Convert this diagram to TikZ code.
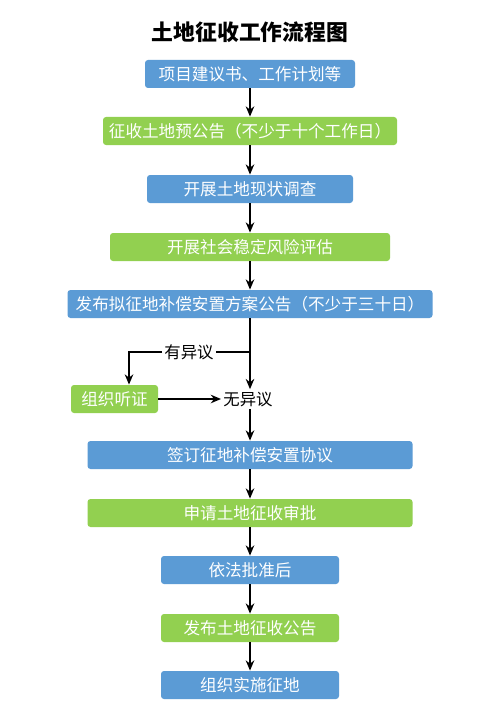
\documentclass[tikz,border=0pt]{standalone}
\usepackage{fontspec}
\setmainfont{Noto Sans CJK SC}
\usepackage{xcolor}
\usetikzlibrary{positioning, arrows.meta, calc}
\definecolor{stepblue}{HTML}{5B9BD5}
\definecolor{stepgreen}{HTML}{92D050}

\begin{document}
\begin{tikzpicture}[
    x=0.5pt, y=-0.5pt,
    >={Stealth[length=1.8mm, width=1.5mm]},
    box/.style={rectangle, rounded corners=1.5pt, text=white, inner sep=0pt,
                minimum height=14pt, font=\fontsize{8.3}{10}\selectfont},
    bbox/.style={box, fill=stepblue},
    gbox/.style={box, fill=stepgreen},
    arrow/.style={->, line width=0.8pt, black},
    line/.style={line width=0.8pt, black},
    plabel/.style={font=\fontsize{8.2}{10}\selectfont, text=black, inner sep=1pt},
]
\useasboundingbox[fill=white] (0,0) rectangle (500,722);

% === title ===
\node[font=\fontsize{10.9}{12}\selectfont\bfseries] (title) at (250,32) {土地征收工作流程图};

% === main steps ===
\node[bbox, minimum width=105pt] (s1) at (250,74) {项目建议书、工作计划等};
\node[gbox, minimum width=147pt] (s2) at (250,131) {征收土地预公告（不少于十个工作日）};
\node[bbox, minimum width=103pt] (s3) at (250,189) {开展土地现状调查};
\node[gbox, minimum width=140pt] (s4) at (250,247) {开展社会稳定风险评估};
\node[bbox, minimum width=182.5pt] (s5) at (250,304) {发布拟征地补偿安置方案公告（不少于三十日）};

% === objection branch ===
\coordinate (fork) at (250,352);
\node[plabel] (yes) at (189,352) {有异议};
\node[gbox, minimum width=43.5pt] (hear) at (114.5,399) {组织听证};
\node[plabel] (no) at (248,399) {无异议};

\node[bbox, minimum width=162.5pt] (s6) at (250,455) {签订征地补偿安置协议};
\node[gbox, minimum width=162.5pt] (s7) at (250,513) {申请土地征收审批};
\node[bbox, minimum width=89pt] (s8) at (250,570) {依法批准后};
\node[gbox, minimum width=89pt] (s9) at (250,628) {发布土地征收公告};
\node[bbox, minimum width=89pt] (s10) at (250,685) {组织实施征地};

% === connectors ===
\draw[arrow] (s1) -- (s2);
\draw[arrow] (s2) -- (s3);
\draw[arrow] (s3) -- (s4);
\draw[arrow] (s4) -- (s5);
\draw[arrow] (s5.south -| fork) -- (no.north -| fork);
\draw[line] (fork) -- (yes.east);
\draw[arrow] (yes.west) -| ([xshift=7.25pt]hear.north);
\draw[arrow] (hear) -- (no);
\draw[arrow] (no.south -| fork) -- (s6.north -| fork);
\draw[arrow] (s6) -- (s7);
\draw[arrow] (s7) -- (s8);
\draw[arrow] (s8) -- (s9);
\draw[arrow] (s9) -- (s10);

\end{tikzpicture}
\end{document}
